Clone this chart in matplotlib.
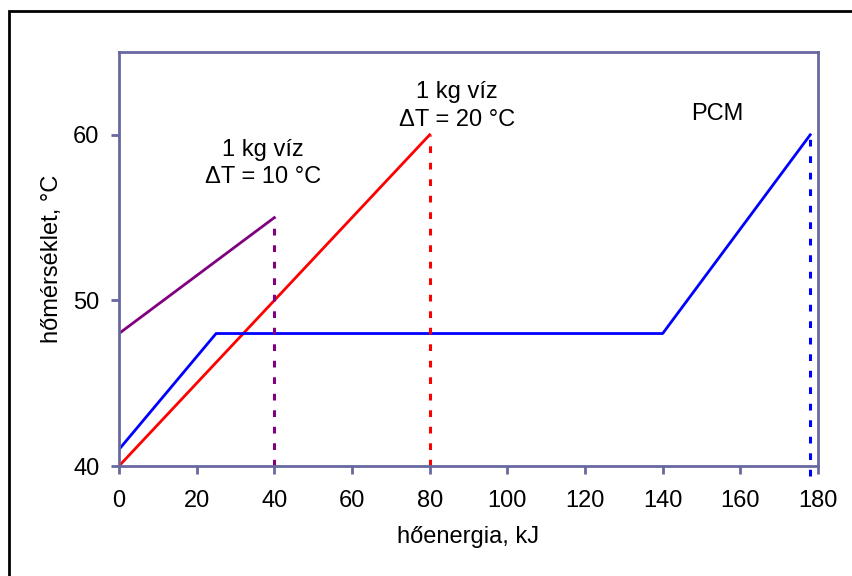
import matplotlib.pyplot as plt
from matplotlib.patches import Rectangle

plt.rcParams['font.family'] = ['Liberation Sans', 'DejaVu Sans']

# data
pcm_x = [0, 25, 140, 178]
pcm_y = [41, 48, 48, 60]
viz20_x = [0, 80]
viz20_y = [40, 60]
viz10_x = [0, 40]
viz10_y = [48, 55]

axis_col = '#6868a0'
fs = 17
dots = (0, (2.2, 3.2))

fig = plt.figure(figsize=(8.53, 5.76), dpi=100)
ax = fig.add_axes([119/853, 110/576, 699/853, 414/576])

ax.plot(viz10_x, viz10_y, color='#800080', lw=2)
ax.plot(viz20_x, viz20_y, color='#ff0000', lw=2)
ax.plot(pcm_x, pcm_y, color='#0000ff', lw=2)

ax.plot([viz10_x[-1]] * 2, [40, viz10_y[-1]], color='#800080', lw=2.2, ls=dots, clip_on=False)
ax.plot([viz20_x[-1]] * 2, [40, viz20_y[-1]], color='#ff0000', lw=2.2, ls=dots, clip_on=False)
ax.plot([pcm_x[-1]] * 2, [39.4, pcm_y[-1]], color='#0000ff', lw=2.2, ls=dots, clip_on=False)

ax.text(37.1, 58.24, '1 kg víz\nΔT = 10 °C', ha='center', va='center', fontsize=fs, linespacing=1.3)
ax.text(87, 61.74, '1 kg víz\nΔT = 20 °C', ha='center', va='center', fontsize=fs, linespacing=1.3)
ax.text(154.1, 61.26, 'PCM', ha='center', va='center', fontsize=fs)

ax.set_xlim(0, 180)
ax.set_ylim(40, 65)
ax.set_xticks(range(0, 181, 20))
ax.set_yticks([40, 50, 60])
for s in ax.spines.values():
    s.set_color(axis_col)
    s.set_linewidth(2)
ax.tick_params(colors=axis_col, labelcolor='black', width=2, length=6, labelsize=fs)
ax.tick_params(axis='x', pad=11)
ax.tick_params(axis='y', pad=8)
ax.set_xlabel('hőenergia, kJ', fontsize=fs, labelpad=10)
ax.set_ylabel('hőmérséklet, °C', fontsize=fs, labelpad=7)

fig.patches.append(Rectangle((9/853, -0.1), 1.2, 1.1 - 11/576, transform=fig.transFigure,
                             fill=False, edgecolor='black', lw=2))

fig.savefig('out.png', dpi=100)
